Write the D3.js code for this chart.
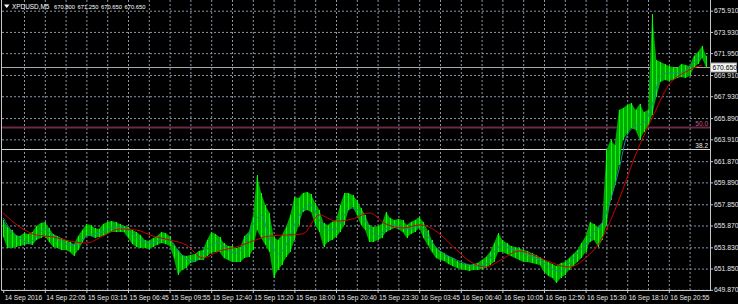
<!DOCTYPE html>
<html>
<head>
<meta charset="utf-8">
<script src="https://cdn.jsdelivr.net/npm/d3@7/dist/d3.min.js"></script>
<style>
  html, body { margin: 0; padding: 0; background: #000; }
  svg { display: block; }
  text { font-family: "Liberation Sans", Arial, sans-serif; }
</style>
</head>
<body>
<svg id="paper"></svg>
<script>
// chart data
const symbolName = "XPDUSD,M5";
const titleValues = ["670.800", "671.250", "670.650", "670.650"];
const bidPrice = 670.650;

const priceTicks = [675.910, 673.930, 671.950, 669.910, 667.930, 665.890, 663.910,
  661.870, 659.890, 657.850, 655.870, 653.830, 651.850, 649.870];

const timeLabels = ["14 Sep 2016", "14 Sep 22:05", "15 Sep 03:15", "15 Sep 06:45",
  "15 Sep 09:55", "15 Sep 12:40", "15 Sep 15:20", "15 Sep 18:00", "15 Sep 20:40",
  "15 Sep 23:30", "16 Sep 03:45", "16 Sep 06:40", "16 Sep 10:05", "16 Sep 12:50",
  "16 Sep 15:30", "16 Sep 18:10", "16 Sep 20:55"];

const fibNames = ["50.0", "38.2"];
const fibPrices = [665.08, 663.05];

// bar highs / lows (one entry per screen column group)
const highs = [
  656.38, 655.73, 655.45, 654.98, 654.89, 655.17, 655.08, 655.26, 655.82, 656.10,
  656.20, 655.64, 655.08, 654.89, 654.70, 654.52, 654.33, 654.14, 654.89, 655.45,
  656.01, 655.92, 655.64, 655.54, 656.01, 656.20, 656.29, 656.20, 656.01, 655.82,
  655.73, 655.45, 655.26, 654.98, 654.52, 654.42, 654.70, 654.89, 655.26, 655.17,
  654.89, 654.05, 653.58, 653.12, 653.03, 653.12, 653.21, 653.49, 653.58, 654.52,
  655.26, 655.08, 654.80, 654.24, 653.96, 653.96, 653.77, 653.86, 654.89, 655.26,
  656.66, 660.58, 658.90, 657.78, 657.04, 654.80, 654.52, 654.98, 655.73, 656.85,
  658.53, 658.44, 658.90, 659.00, 658.81, 657.97, 657.32, 656.10, 655.92, 656.20,
  656.38, 657.78, 658.90, 658.90, 658.72, 658.25, 657.50, 656.85, 655.92, 655.73,
  655.82, 656.01, 657.13, 656.57, 656.38, 656.48, 656.38, 655.92, 656.20, 656.38,
  656.66, 656.20, 655.45, 654.52, 653.77, 653.49, 653.31, 653.03, 652.84, 652.56,
  652.37, 652.28, 652.19, 652.28, 652.37, 652.65, 652.93, 653.40, 654.24, 655.17,
  654.52, 654.24, 653.96, 653.86, 653.77, 653.58, 653.49, 653.31, 653.12, 652.93,
  652.65, 652.47, 652.28, 652.09, 652.37, 652.47, 652.84, 653.21, 653.58, 654.24,
  654.89, 656.20, 656.01, 655.73, 656.20, 662.91, 663.85, 663.38, 666.65, 666.83,
  667.11, 667.30, 666.65, 667.21, 666.46, 666.65, 675.60, 671.31, 671.13, 670.94,
  670.75, 670.66, 670.57, 670.94, 670.85, 670.75, 671.69, 672.06, 672.62, 671.69
];
const lows = [
  654.80, 653.77, 653.77, 653.86, 653.96, 654.05, 654.14, 654.05, 654.52, 654.70,
  654.89, 654.33, 653.86, 653.77, 653.58, 653.58, 653.40, 653.03, 653.58, 654.24,
  654.89, 654.89, 654.70, 654.80, 654.89, 655.08, 655.26, 655.26, 655.26, 655.26,
  654.70, 654.14, 653.86, 653.77, 653.77, 653.68, 653.86, 654.05, 654.24, 654.14,
  653.96, 652.84, 651.25, 651.72, 651.91, 652.37, 652.47, 652.65, 652.65, 653.03,
  653.31, 653.40, 653.40, 652.84, 652.65, 652.47, 652.47, 652.47, 652.84, 652.93,
  653.58, 655.45, 654.70, 654.05, 653.40, 650.97, 651.72, 652.19, 652.93, 653.40,
  654.52, 655.92, 657.13, 657.32, 657.13, 655.92, 655.26, 653.86, 654.33, 654.52,
  654.80, 655.26, 655.92, 657.32, 657.60, 656.85, 655.92, 655.45, 654.33, 654.33,
  654.52, 654.70, 655.26, 655.45, 655.64, 655.54, 655.26, 654.70, 655.08, 655.26,
  655.64, 654.70, 654.05, 653.40, 652.84, 652.65, 652.56, 652.28, 652.09, 651.91,
  651.81, 651.72, 651.63, 651.72, 651.72, 651.81, 651.91, 652.19, 652.47, 653.40,
  653.40, 653.21, 653.03, 652.84, 652.65, 652.47, 652.47, 652.37, 652.28, 652.19,
  651.53, 651.16, 650.97, 650.51, 650.97, 651.25, 651.72, 652.09, 652.47, 652.84,
  653.40, 654.33, 654.52, 653.86, 654.52, 655.92, 658.25, 659.65, 661.52, 663.85,
  664.50, 664.97, 664.78, 663.85, 664.59, 665.15, 666.18, 667.86, 669.26, 669.45,
  669.35, 669.45, 669.63, 669.73, 669.63, 669.82, 670.57, 670.94, 671.50, 670.57
];

// fast MA, one value every 2 bars
const maFast = [
  656.57, 655.36, 654.70, 654.24, 654.80, 655.54, 654.89, 654.42, 654.05, 654.14,
  654.89, 655.08, 655.26, 655.64, 655.73, 655.45, 654.80, 654.33, 654.24, 654.61,
  654.52, 653.58, 652.75, 652.56, 653.21, 654.05, 654.24, 653.58, 653.31, 654.05,
  655.92, 656.85, 654.70, 653.21, 654.05, 655.92, 657.32, 657.78, 656.38, 655.45,
  655.54, 656.85, 657.50, 657.04, 655.64, 654.89, 655.54, 655.92, 655.64, 655.54,
  655.92, 654.89, 653.86, 653.21, 652.84, 652.47, 652.19, 652.09, 652.28, 653.40,
  654.05, 653.68, 653.49, 653.12, 652.84, 652.37, 651.81, 651.63, 652.28, 653.31,
  654.05, 655.26, 656.10, 658.25, 661.05, 664.31, 665.15, 665.43, 667.11, 669.82,
  670.10, 670.10, 670.29, 671.03, 671.87
];
// slow MA, one value every 4 bars
const maSlow = [
  657.04, 655.73, 654.98, 654.80, 654.42, 654.24, 654.89, 655.54, 655.45, 654.89,
  654.52, 654.05, 652.84, 653.49, 653.86, 654.42, 654.89, 654.98, 655.08, 656.85,
  656.29, 656.48, 657.04, 656.01, 655.64, 655.92, 655.36, 653.96, 652.56, 652.00,
  652.75, 653.49, 653.03, 652.37, 652.00, 652.84, 654.70, 658.25, 662.45, 665.90,
  668.98, 670.19, 670.85
];

const width = 738, height = 304;
const frame = { left: 1.5, right: 710.5, bottom: 290.5 };
const nBars = 170;

const svg = d3.select("#paper")
  .attr("width", width)
  .attr("height", height);

svg.append("rect")
  .attr("width", width)
  .attr("height", height)
  .attr("fill", "#000");

const x = d3.scaleLinear().domain([0, nBars]).range([3.2, 710.4]);
const y = d3.scaleLinear().domain([675.91, 649.87]).range([10.7, 289.8]);

svg.append("defs").append("clipPath").attr("id", "plot-clip")
  .append("rect")
  .attr("x", 2).attr("y", 0)
  .attr("width", 708).attr("height", 290);

// grid
svg.append("g")
  .attr("class", "grid-y")
  .attr("transform", "translate(2,0)")
  .call(d3.axisLeft(y).tickValues(priceTicks).tickSize(-708).tickFormat(""))
  .call((g) => g.select(".domain").remove())
  .selectAll("line")
  .attr("stroke", "#8a97a8")
  .attr("stroke-dasharray", "2,2");

svg.append("g")
  .attr("class", "grid-x")
  .attr("transform", "translate(0,290)")
  .call(d3.axisBottom(x).tickValues(d3.range(5, nBars, 5)).tickSize(-290).tickFormat(""))
  .call((g) => g.select(".domain").remove())
  .selectAll("line")
  .attr("stroke", "#8a97a8")
  .attr("stroke-dasharray", "2,2");

const plot = svg.append("g").attr("clip-path", "url(#plot-clip)");

// horizontal levels
plot.append("line")
  .attr("x1", 2).attr("x2", 710)
  .attr("y1", Math.round(y(fibPrices[0])) + 0.5)
  .attr("y2", Math.round(y(fibPrices[0])) + 0.5)
  .attr("stroke", "#6e2848")
  .attr("stroke-width", 2);

plot.append("line")
  .attr("x1", 2).attr("x2", 710)
  .attr("y1", Math.round(y(fibPrices[1])) + 0.5)
  .attr("y2", Math.round(y(fibPrices[1])) + 0.5)
  .attr("stroke", "#d8d8d8");

plot.append("line")
  .attr("x1", 2).attr("x2", 710)
  .attr("y1", Math.round(y(bidPrice)) + 0.5)
  .attr("y2", Math.round(y(bidPrice)) + 0.5)
  .attr("stroke", "#a8a8a8");

// price bars
const idx = d3.range(highs.length);
plot.append("path")
  .datum(idx)
  .attr("fill", "#00a800")
  .attr("d", d3.area()
    .x((i) => x(i))
    .y0((i) => y(lows[i]))
    .y1((i) => y(highs[i])));

plot.selectAll(".bar")
  .data(idx)
  .enter()
  .append("line")
  .attr("class", "bar")
  .attr("x1", (i) => Math.round(x(i)) + 0.5)
  .attr("x2", (i) => Math.round(x(i)) + 0.5)
  .attr("y1", (i) => y(lows[i]))
  .attr("y2", (i) => y(highs[i]))
  .attr("stroke", "#00ff00")
  .attr("stroke-width", 1);

// moving averages
plot.append("path")
  .datum(maFast)
  .attr("fill", "none")
  .attr("stroke", "#1f8a8a")
  .attr("stroke-width", 1)
  .attr("d", d3.line().x((d, k) => x(k * 2)).y((d) => y(d)).curve(d3.curveMonotoneX));

plot.append("path")
  .datum(maSlow)
  .attr("fill", "none")
  .attr("stroke", "#d00000")
  .attr("stroke-width", 1)
  .attr("d", d3.line().x((d, k) => x(k * 4)).y((d) => y(d)).curve(d3.curveMonotoneX));

// level labels
fibNames.forEach((name, i) => {
  svg.append("text")
    .attr("x", 708)
    .attr("y", Math.round(y(fibPrices[i])) - 1)
    .attr("text-anchor", "end")
    .attr("font-size", 6.5)
    .attr("fill", i === 0 ? "#c0608a" : "#e8e8e8")
    .text(name);
});

// frame
svg.append("path")
  .attr("d", `M${frame.left},0V${frame.bottom}H${frame.right}V0`)
  .attr("fill", "none")
  .attr("stroke", "#c8c8c8");

// price axis
const axisY = svg.append("g")
  .attr("transform", "translate(710,0)")
  .call(d3.axisRight(y).tickValues(priceTicks).tickFormat(d3.format(".3f")).tickSize(3).tickPadding(1));
axisY.select(".domain").remove();
axisY.selectAll("line").attr("stroke", "#c8c8c8");
axisY.selectAll("text")
  .attr("fill", "#e8e8e8")
  .attr("font-size", 6.8)
  .attr("font-family", "Liberation Sans, Arial, sans-serif");

// bid label box
const bidY = Math.round(y(bidPrice)) + 0.5;
svg.append("rect")
  .attr("x", 710.5).attr("y", bidY - 4.5)
  .attr("width", 26).attr("height", 9)
  .attr("fill", "#f4f4f4")
  .attr("stroke", "#a8a8a8");
svg.append("text")
  .attr("x", 712.5).attr("y", bidY + 2.5)
  .attr("font-size", 6.8)
  .attr("fill", "#000")
  .text(d3.format(".3f")(bidPrice));

// time axis
const axisX = svg.append("g")
  .attr("transform", "translate(0,290)")
  .call(d3.axisBottom(x).tickValues(d3.range(0, nBars - 9, 10))
    .tickFormat((d, i) => timeLabels[i]).tickSize(3).tickPadding(2));
axisX.select(".domain").remove();
axisX.selectAll("line").attr("stroke", "#c8c8c8");
axisX.selectAll("text")
  .attr("fill", "#e8e8e8")
  .attr("font-size", 6.6)
  .attr("text-anchor", "start")
  .attr("dx", 1)
  .attr("font-family", "Liberation Sans, Arial, sans-serif");

// title
svg.append("path")
  .attr("d", "M4,4.5H9.5L6.75,8Z")
  .attr("fill", "#ffffff");
svg.append("text")
  .attr("x", 12).attr("y", 9)
  .attr("font-size", 6.4)
  .attr("fill", "#ffffff")
  .text(symbolName);
titleValues.forEach((v, i) => {
  svg.append("text")
    .attr("x", 54 + i * 23.5).attr("y", 9)
    .attr("font-size", 5.8)
    .attr("fill", "#ffffff")
    .text(v);
});
</script>
</body>
</html>
